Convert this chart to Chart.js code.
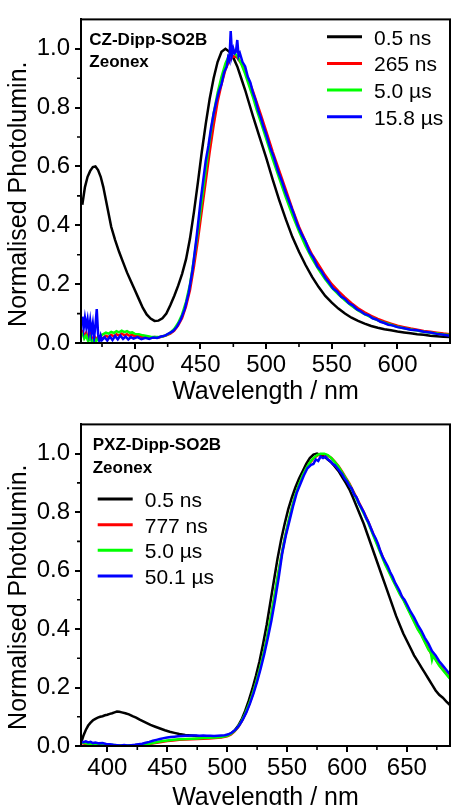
<!DOCTYPE html>
<html><head><meta charset="utf-8">
<script src="https://cdn.jsdelivr.net/npm/chart.js@4.4.1/dist/chart.umd.min.js"></script>
<style>
html,body{margin:0;padding:0;background:#fff;overflow:hidden;width:451px;height:805px}
.box{position:absolute;left:0;width:451px}
#b1{top:0;height:407px}
#b2{top:405px;height:408px}
canvas{display:block}
</style></head><body>
<div class="box" id="b1"><canvas id="c1"></canvas></div>
<div class="box" id="b2"><canvas id="c2"></canvas></div>
<script>
// ---------- shared tick labels ----------
const yTicks = [0, 0.2, 0.4, 0.6, 0.8, 1.0];
const yMinor = [0.1, 0.3, 0.5, 0.7, 0.9];
const yTitle = 'Normalised Photolumin.';
const xTitle = 'Wavelength / nm';

// ---------- top panel: CZ-Dipp-SO2B ----------
const topNotes = ['CZ-Dipp-SO2B', 'Zeonex'];
const topLabels = ['0.5 ns', '265 ns', '5.0 µs', '15.8 µs'];
const topXTicks = [400, 450, 500, 550, 600];
const topXMinor = [375, 425, 475, 525, 575, 625];

const topBlackX = [360,362,364,366,368,370,372,374,376,378,380,382,385,388,391,394,397,400,403,406,409,412,415,418,421,424,427,430,433,436,439,442,445,448,451,454,457,460,463,466,469,472,475,478,481,484,487,490,495,500,505,510,515,520,525,530,535,540,545,550,555,560,565,570,575,580,585,590,595,600,605,610,615,620,625,630,635,640];
const topBlackY = [0.47,0.53,0.565,0.585,0.598,0.60,0.588,0.565,0.53,0.485,0.44,0.395,0.35,0.31,0.275,0.24,0.21,0.18,0.15,0.12,0.097,0.083,0.075,0.076,0.084,0.10,0.128,0.16,0.195,0.235,0.285,0.355,0.445,0.545,0.65,0.745,0.83,0.90,0.955,0.99,1.0,0.99,0.97,0.94,0.90,0.86,0.815,0.77,0.70,0.63,0.555,0.485,0.42,0.36,0.31,0.265,0.225,0.19,0.16,0.137,0.117,0.10,0.086,0.075,0.066,0.058,0.052,0.047,0.043,0.039,0.036,0.033,0.030,0.028,0.025,0.023,0.021,0.020];

const topRedX = [360,361.5,363,364.5,366,367.5,369,370.5,372,374,376,378,380,382,384,386,388,390,392,394,396,398,400,403,406,409,412,415,418,421,424,427,430,433,436,439,442,445,448,451,454,457,460,463,466,469,472,475,478,481,484,487,490,493,496,500,505,510,515,520,525,530,535,540,545,550,555,560,565,570,575,580,585,590,595,600,605,610,615,620,625,630,635,640];
const topRedY = [0.045,0.02,0.035,0.012,0.03,0.008,0.025,0.01,0.022,0.012,0.018,0.025,0.02,0.028,0.022,0.03,0.025,0.032,0.026,0.03,0.024,0.028,0.022,0.025,0.02,0.022,0.018,0.02,0.019,0.022,0.026,0.032,0.042,0.06,0.085,0.125,0.18,0.26,0.35,0.45,0.55,0.65,0.74,0.82,0.88,0.93,0.96,0.975,0.97,0.95,0.925,0.89,0.855,0.815,0.775,0.72,0.65,0.585,0.52,0.455,0.395,0.345,0.30,0.265,0.23,0.20,0.176,0.155,0.135,0.118,0.104,0.092,0.082,0.073,0.066,0.059,0.054,0.049,0.045,0.041,0.038,0.035,0.032,0.030];

const topGreenX = topRedX;
const topGreenY = [0.035,0.015,0.025,0.005,0.02,0.0,0.015,0.005,0.018,0.025,0.03,0.035,0.032,0.038,0.034,0.04,0.036,0.042,0.037,0.04,0.035,0.036,0.031,0.03,0.026,0.024,0.021,0.02,0.02,0.022,0.027,0.035,0.048,0.068,0.097,0.14,0.20,0.285,0.38,0.485,0.59,0.69,0.78,0.85,0.905,0.95,0.98,0.99,0.975,0.95,0.915,0.875,0.835,0.79,0.75,0.695,0.625,0.56,0.495,0.435,0.38,0.33,0.287,0.25,0.217,0.188,0.165,0.145,0.127,0.111,0.098,0.087,0.077,0.069,0.062,0.055,0.05,0.046,0.042,0.038,0.035,0.032,0.029,0.027];

const topBlueX = [360,361,362,363,364,365,366,367,368,369,370,371,372,373,374,375,377,379,381,383,385,387,389,391,393,395,397,399,402,405,408,411,414,417,420,423,426,429,432,435,438,441,444,447,450,452,454,456,458,460,462,464,466,468,470,471,472,473,474,475,476,477,478,479,480,482,484,486,488,490,492,494,496,498,500,503,506,509,512,515,518,521,524,527,530,533,536,539,542,545,548,551,554,557,560,563,566,569,572,575,578,581,584,587,590,593,596,600,605,610,615,620,625,630,635,640];
const topBlueY = [0.09,0.05,0.085,0.055,0.08,0.04,0.075,0.035,0.065,0.02,0.06,0.115,0.03,0.005,0.025,0.01,0.02,0.008,0.022,0.01,0.024,0.012,0.025,0.014,0.022,0.012,0.02,0.015,0.02,0.013,0.018,0.014,0.019,0.017,0.022,0.025,0.033,0.04,0.055,0.08,0.115,0.17,0.25,0.36,0.48,0.55,0.62,0.67,0.73,0.78,0.82,0.855,0.88,0.92,0.94,0.97,0.96,1.06,0.98,1.0,0.985,0.99,1.03,0.975,0.985,0.955,0.94,0.905,0.885,0.85,0.825,0.79,0.765,0.735,0.71,0.665,0.63,0.585,0.55,0.51,0.475,0.44,0.40,0.37,0.345,0.31,0.29,0.26,0.245,0.222,0.205,0.185,0.175,0.158,0.15,0.135,0.128,0.115,0.108,0.098,0.094,0.084,0.08,0.072,0.068,0.062,0.06,0.054,0.05,0.045,0.043,0.038,0.036,0.031,0.028,0.025];

// ---------- bottom panel: PXZ-Dipp-SO2B ----------
const botNotes = ['PXZ-Dipp-SO2B', 'Zeonex'];
const botLabels = ['0.5 ns', '777 ns', '5.0 µs', '50.1 µs'];
const botXTicks = [400, 450, 500, 550, 600, 650];
const botXMinor = [425, 475, 525, 575, 625, 675];

const botBlackX = [378,380,382,384,386,388,390,392,394,396,398,400,402,404,406,408,410,412,415,418,421,424,427,430,433,436,440,444,448,452,456,460,465,470,475,480,485,490,495,500,503,506,509,512,515,518,521,524,527,530,533,536,539,542,545,548,551,554,557,560,563,566,569,572,575,578,581,584,587,590,593,596,599,602,605,608,611,614,617,620,623,626,629,632,635,638,641,644,647,650,653,656,659,662,665,668,671,674,677,680,683,686];
const botBlackY = [0.01,0.035,0.055,0.07,0.08,0.088,0.093,0.097,0.10,0.102,0.105,0.107,0.11,0.112,0.115,0.118,0.117,0.115,0.112,0.108,0.102,0.097,0.09,0.084,0.078,0.072,0.066,0.06,0.054,0.049,0.045,0.041,0.038,0.036,0.034,0.033,0.032,0.031,0.032,0.036,0.042,0.052,0.068,0.09,0.12,0.155,0.195,0.24,0.29,0.35,0.415,0.49,0.565,0.64,0.705,0.76,0.81,0.85,0.885,0.915,0.94,0.965,0.985,0.997,1.0,0.995,0.99,0.98,0.97,0.955,0.94,0.92,0.90,0.878,0.85,0.82,0.79,0.76,0.725,0.69,0.655,0.62,0.585,0.55,0.515,0.48,0.445,0.415,0.385,0.36,0.335,0.31,0.29,0.27,0.25,0.23,0.21,0.19,0.175,0.165,0.152,0.14];

const botRedX = [378,381,384,387,390,395,400,405,410,415,420,425,430,435,440,445,450,455,460,465,470,475,480,485,490,495,500,503,506,509,512,515,518,521,524,527,530,533,536,539,542,545,548,551,554,557,560,563,566,569,572,575,578,581,584,587,590,593,596,599,602,605,608,611,614,617,620,623,626,629,632,635,638,641,644,647,650,653,656,659,662,665,668,671,674,677,680,683,686];
const botRedY = [0.01,0.008,0.007,0.005,0.004,0.003,0.003,0.002,0.002,0.001,0.002,0.003,0.004,0.007,0.01,0.014,0.017,0.019,0.021,0.022,0.023,0.024,0.025,0.026,0.027,0.029,0.033,0.039,0.049,0.063,0.083,0.108,0.138,0.173,0.213,0.258,0.308,0.363,0.428,0.498,0.573,0.643,0.708,0.763,0.813,0.858,0.893,0.923,0.948,0.968,0.983,0.993,0.998,0.998,0.993,0.985,0.972,0.957,0.938,0.918,0.898,0.874,0.85,0.825,0.80,0.775,0.745,0.715,0.685,0.655,0.625,0.60,0.574,0.549,0.524,0.503,0.478,0.453,0.428,0.403,0.383,0.358,0.333,0.31,0.297,0.277,0.262,0.247,0.232];

const botGreenX = [378,381,384,387,390,395,400,405,410,415,420,425,430,435,440,445,450,455,460,465,470,475,480,485,490,495,500,503,506,509,512,515,518,521,524,527,530,533,536,539,542,545,548,551,554,557,560,563,566,569,572,575,578,581,584,587,590,593,596,599,602,605,608,611,614,617,620,623,626,629,632,635,638,641,644,647,650,653,656,659,662,665,668,670,671,672,674,677,680,683,686];
const botGreenY = [0.012,0.01,0.008,0.006,0.005,0.004,0.004,0.003,0.002,0.002,0.002,0.003,0.005,0.008,0.012,0.016,0.019,0.021,0.023,0.024,0.025,0.026,0.027,0.028,0.029,0.031,0.035,0.041,0.051,0.065,0.085,0.11,0.14,0.175,0.215,0.26,0.31,0.365,0.43,0.50,0.575,0.645,0.71,0.765,0.815,0.86,0.895,0.925,0.95,0.97,0.985,0.995,1.0,1.0,0.995,0.985,0.97,0.955,0.935,0.915,0.895,0.87,0.845,0.82,0.795,0.77,0.74,0.71,0.68,0.65,0.62,0.595,0.57,0.545,0.52,0.50,0.475,0.45,0.425,0.40,0.38,0.355,0.33,0.32,0.295,0.31,0.295,0.275,0.26,0.245,0.23];

const botBlueX = [378,380,382,384,386,388,390,393,396,399,402,405,408,411,414,417,420,423,426,429,432,435,438,441,444,447,450,453,456,459,462,465,468,471,474,477,480,483,486,489,492,495,498,501,504,507,510,513,516,519,522,525,528,531,534,537,540,543,546,549,552,555,558,561,564,567,570,572,574,576,578,580,582,584,586,588,590,592,594,596,598,600,602,604,606,608,610,612,614,616,618,620,622,624,626,628,630,632,634,636,638,640,642,644,646,648,650,653,656,659,662,665,668,671,674,677,680,683,686];
const botBlueY = [0.015,0.013,0.016,0.012,0.014,0.01,0.012,0.009,0.01,0.007,0.006,0.004,0.003,0.002,0.003,0.002,0.003,0.004,0.006,0.008,0.011,0.014,0.018,0.021,0.024,0.027,0.029,0.031,0.032,0.033,0.034,0.035,0.035,0.036,0.036,0.035,0.036,0.035,0.035,0.034,0.035,0.036,0.037,0.04,0.046,0.056,0.07,0.09,0.115,0.145,0.18,0.22,0.265,0.315,0.37,0.43,0.50,0.575,0.66,0.72,0.77,0.82,0.865,0.895,0.925,0.95,0.962,0.965,0.98,0.975,0.99,0.985,0.99,0.98,0.975,0.965,0.96,0.95,0.94,0.93,0.915,0.905,0.89,0.88,0.86,0.85,0.83,0.815,0.80,0.78,0.765,0.745,0.725,0.71,0.69,0.665,0.645,0.63,0.615,0.595,0.58,0.56,0.545,0.53,0.51,0.50,0.485,0.46,0.44,0.415,0.395,0.37,0.35,0.325,0.31,0.29,0.275,0.26,0.245];

const lineColors = ['#000000', '#ff0000', '#00ff00', '#0000ff'];

// ---------- helpers ----------
const FONT = "'Liberation Sans', Arial, Helvetica, sans-serif";
Chart.defaults.font.family = FONT;
Chart.defaults.color = '#000';

function pts(xs, ys) { return xs.map((x, i) => ({ x: x, y: ys[i] })); }

const deco = {
  id: 'deco',
  afterDatasetsDraw(chart, args, o) {
    const ctx = chart.ctx, a = chart.chartArea;
    const xs = chart.scales.x, ys = chart.scales.y;
    ctx.save();
    ctx.strokeStyle = '#000';
    ctx.lineWidth = 2;
    ctx.strokeRect(a.left, a.top, a.right - a.left, a.bottom - a.top);
    ctx.lineWidth = 1.6;
    ctx.beginPath();
    o.xMinor.forEach(v => { const p = xs.getPixelForValue(v); ctx.moveTo(p, a.bottom); ctx.lineTo(p, a.bottom + 4); });
    o.yMinor.forEach(v => { const p = ys.getPixelForValue(v); ctx.moveTo(a.left, p); ctx.lineTo(a.left - 4, p); });
    ctx.stroke();
    ctx.fillStyle = '#000';
    ctx.textAlign = 'left';
    ctx.textBaseline = 'alphabetic';
    ctx.font = 'bold 17px ' + FONT;
    o.notes.forEach((t, i) => ctx.fillText(t, a.left + o.noteX, a.top + o.noteY + i * o.noteGap));
    ctx.font = '21px ' + FONT;
    chart.data.datasets.forEach((d, i) => {
      const y = a.top + o.legY + i * o.legGap;
      ctx.strokeStyle = d.borderColor;
      ctx.lineWidth = 3;
      ctx.beginPath();
      ctx.moveTo(a.left + o.legX, y);
      ctx.lineTo(a.left + o.legX + 35, y);
      ctx.stroke();
      ctx.fillText(d.label, a.left + o.legX + 47, y + 8);
    });
    ctx.translate(o.yTitleX, (a.top + a.bottom) / 2 + o.yTitleDy);
    ctx.rotate(-Math.PI / 2);
    ctx.font = '25px ' + FONT;
    ctx.textAlign = 'center';
    ctx.textBaseline = 'middle';
    ctx.fillText(yTitle, 0, 0);
    ctx.restore();
  }
};

function makeChart(id, p) {
  const datasets = p.series.map((s, i) => ({
    label: p.labels[i],
    data: pts(s[0], s[1]),
    borderColor: lineColors[i],
    backgroundColor: lineColors[i],
    borderWidth: 2.5,
    pointRadius: 0,
    tension: 0,
    fill: false,
    order: 3 - i
  }));
  return new Chart(document.getElementById(id), {
    type: 'line',
    data: { datasets: datasets },
    options: {
      responsive: true,
      maintainAspectRatio: false,
      animation: false,
      events: [],
      layout: { padding: { top: 16, right: 1, left: 0, bottom: 0 } },
      plugins: {
        legend: { display: false },
        tooltip: { enabled: false },
        deco: p.deco
      },
      scales: {
        x: {
          type: 'linear', min: p.xmin, max: p.xmax,
          afterBuildTicks: s => { s.ticks = p.xTicks.map(v => ({ value: v })); },
          afterFit: s => { s.height = p.xAxisH; },
          ticks: { font: { size: 24 }, padding: 2, maxRotation: 0, autoSkip: false, callback: v => String(v) },
          grid: { drawOnChartArea: false, color: '#000', lineWidth: 2, tickLength: 6 },
          border: { display: true, color: '#000', width: 2 },
          title: { display: true, text: xTitle, font: { size: 25 }, padding: { top: 0, bottom: 0 } }
        },
        y: {
          type: 'linear', min: 0, max: 1.1,
          afterBuildTicks: s => { s.ticks = yTicks.map(v => ({ value: v })); },
          afterFit: s => { s.width = 81; },
          ticks: { font: { size: 24 }, padding: 5, callback: v => Number(v).toFixed(1) },
          grid: { drawOnChartArea: false, color: '#000', lineWidth: 2, tickLength: 6 },
          border: { display: true, color: '#000', width: 2 }
        }
      }
    },
    plugins: [deco]
  });
}

makeChart('c1', {
  series: [[topBlackX, topBlackY], [topRedX, topRedY], [topGreenX, topGreenY], [topBlueX, topBlueY]],
  labels: topLabels, xTicks: topXTicks, xmin: 359, xmax: 640, xAxisH: 64,
  deco: { xMinor: topXMinor, yMinor: yMinor, notes: topNotes, noteX: 8.3, noteY: 25.7, noteGap: 22.3,
          legX: 246, legY: 17.3, legGap: 26.7, yTitleX: 19.5, yTitleDy: 13 }
});

makeChart('c2', {
  series: [[botBlackX, botBlackY], [botRedX, botRedY], [botGreenX, botGreenY], [botBlueX, botBlueY]],
  labels: botLabels, xTicks: botXTicks, xmin: 378, xmax: 686, xAxisH: 67,
  deco: { xMinor: botXMinor, yMinor: yMinor, notes: botNotes, noteX: 11.7, noteY: 25.7, noteGap: 23.3,
          legX: 16.7, legY: 74.7, legGap: 25.6, yTitleX: 19.5, yTitleDy: 12 }
});
</script>
</body></html>
